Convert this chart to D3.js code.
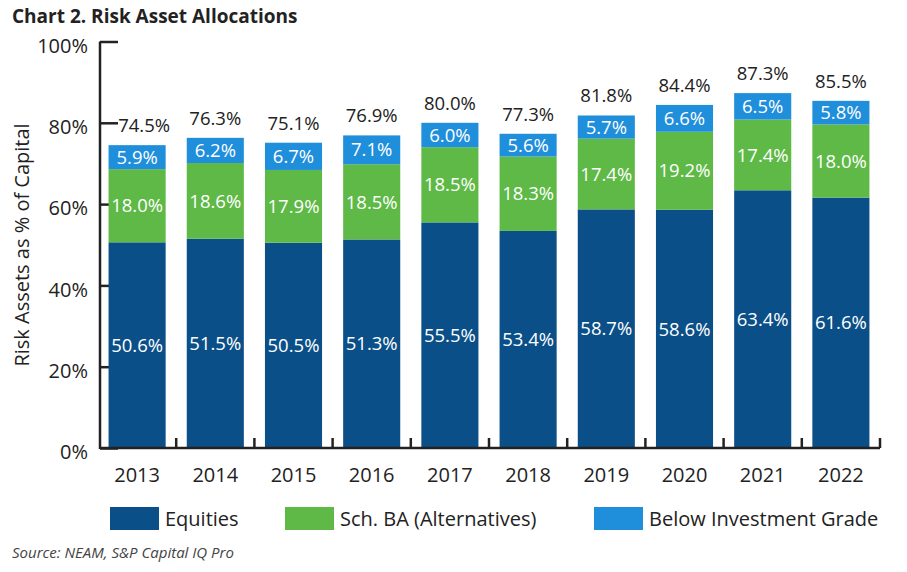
<!DOCTYPE html>
<html><head><meta charset="utf-8">
<script src="https://cdn.jsdelivr.net/npm/d3@7"></script>
<style>
body{margin:0;background:#fff;}
text{font-family:"Open Sans",Lato,sans-serif;}
</style></head>
<body><svg id="c" width="907" height="572"></svg>
<script>
const years = ["2013","2014","2015","2016","2017","2018","2019","2020","2021","2022"];
const equities = [50.6,51.5,50.5,51.3,55.5,53.4,58.7,58.6,63.4,61.6];
const alternatives = [18.0,18.6,17.9,18.5,18.5,18.3,17.4,19.2,17.4,18.0];
const belowIG = [5.9,6.2,6.7,7.1,6.0,5.6,5.7,6.6,6.5,5.8];
const totals = [74.5,76.3,75.1,76.9,80.0,77.3,81.8,84.4,87.3,85.5];
const yTicks = [0,20,40,60,80,100];
const seriesNames = ["Equities","Sch. BA (Alternatives)","Below Investment Grade"];
const colors = ["#0b4f88","#5eb946","#1f8edb"];

const svg = d3.select("#c");
const x = d3.scaleBand().domain(years).range([98,880]).paddingInner(0.27).paddingOuter(0.135);
const y = d3.scaleLinear().domain([0,100]).range([448,41.5]);

const rows = years.map((yr,i)=>({year:yr, e:equities[i], a:alternatives[i], b:belowIG[i]}));
const stack = d3.stack().keys(["e","a","b"])(rows);

// title
svg.append("text").attr("x",12).attr("y",23).attr("font-size",19).attr("font-weight",700)
  .attr("fill","#222").text("Chart 2. Risk Asset Allocations");

// bars
stack.forEach((s,si)=>{
  const g = svg.append("g");
  g.selectAll("rect").data(s).enter().append("rect")
    .attr("x",d=>x(d.data.year)).attr("width",x.bandwidth())
    .attr("y",d=>y(d[1])).attr("height",d=>y(d[0])-y(d[1]))
    .attr("fill",colors[si]);
  g.selectAll("text").data(s).enter().append("text")
    .attr("x",d=>x(d.data.year)+x.bandwidth()/2)
    .attr("y",d=>(y(d[0])+y(d[1]))/2)
    .attr("dy","0.36em").attr("text-anchor","middle")
    .attr("font-size",18.5).attr("fill","#fff")
    .text(d=>(d[1]-d[0]).toFixed(1)+"%");
});

// totals
svg.append("g").selectAll("text").data(years).enter().append("text")
  .attr("x",(d,i)=>x(d)+x.bandwidth()/2+(i===0?7:0))
  .attr("y",(d,i)=>y(d3.sum([equities[i],alternatives[i],belowIG[i]]))-13)
  .attr("text-anchor","middle").attr("font-size",18.5).attr("fill","#222")
  .text((d,i)=>totals[i].toFixed(1)+"%");

// y axis
const yAxis = svg.append("g").attr("transform","translate(100,0)")
  .call(d3.axisRight(y).tickValues(yTicks).tickSize(18).tickFormat(""));
yAxis.select(".domain").remove();
yAxis.selectAll(".tick line").attr("stroke","#222").attr("stroke-width",2.5);
yAxis.lower();
svg.append("line").attr("x1",100).attr("x2",100).attr("y1",y(100)).attr("y2",449)
  .attr("stroke","#222").attr("stroke-width",2.5);
svg.append("g").selectAll("text").data(yTicks).enter().append("text")
  .attr("x",88).attr("y",d=>y(d)+4).attr("dy","0.36em").attr("text-anchor","end")
  .attr("font-size",20).attr("fill","#222").text(d=>d+"%");

// y title
svg.append("text").attr("transform","translate(29,245) rotate(-90)")
  .attr("text-anchor","middle").attr("font-size",20).attr("fill","#222")
  .text("Risk Assets as % of Capital");

// x axis
svg.append("line").attr("x1",100).attr("x2",880).attr("y1",448).attr("y2",448)
  .attr("stroke","#222").attr("stroke-width",2.5);
const bounds = years.map(d=>x(d)-x.step()*x.paddingInner()/2).slice(1).concat([880]);
svg.append("g").selectAll("line").data(bounds).enter().append("line")
  .attr("x1",d=>d).attr("x2",d=>d).attr("y1",448).attr("y2",438)
  .attr("stroke","#222").attr("stroke-width",2.5);
svg.append("g").selectAll("text").data(years).enter().append("text")
  .attr("x",d=>x(d)+x.bandwidth()/2).attr("y",475).attr("dy","0.36em")
  .attr("text-anchor","middle").attr("font-size",20).attr("fill","#222").text(d=>d);

// legend
const legX = [110,285,594];
const leg = svg.append("g");
seriesNames.forEach((n,i)=>{
  leg.append("rect").attr("x",legX[i]).attr("y",507).attr("width",49).attr("height",23).attr("fill",colors[i]);
  leg.append("text").attr("x",legX[i]+55).attr("y",519).attr("dy","0.36em")
    .attr("font-size",20).attr("fill","#222").text(n);
});

// source
svg.append("text").attr("x",12).attr("y",558).attr("font-size",15).attr("font-style","italic")
  .attr("fill","#444").text("Source: NEAM, S&P Capital IQ Pro");
</script></body></html>
